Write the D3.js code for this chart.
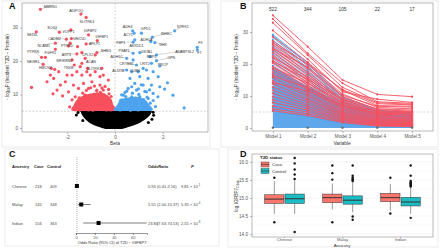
<!DOCTYPE html>
<html>
<head>
<meta charset="utf-8">
<script src="https://cdn.jsdelivr.net/npm/d3@7"></script>
<style>
  body { margin: 0; background: #fff; }
  svg { font-family: "Liberation Sans", Arial, sans-serif; display: block; }
</style>
</head>
<body>
<div id="chart"></div>
<script>
// ---------- panel A: volcano ----------
const redPoints = [
  [-3.13,35.4],[-1.43,34.0],[-1.21,33.0],[-3.30,28.7],[-2.33,28.6],[-1.85,29.3],[-1.11,27.8],
  [-2.04,26.5],[-1.83,26.7],[-0.74,26.1],[-2.50,25.3],[-1.88,25.3],[-1.21,25.1],[-1.95,24.5],
  [-1.57,24.3],[-3.08,21.1],[-2.92,21.1],[-2.50,23.5],[-0.76,22.5],[-1.39,22.5],[-1.60,22.1],
  [-3.01,19.0],[-2.67,17.8],[-2.53,17.5],[-1.80,20.3],[-1.71,18.8],[-1.46,18.3],[-1.39,19.3],
  [-1.25,20.8],[-1.15,17.8],[-0.83,21.8],[-3.50,12.1],[-2.85,13.8],[-2.57,14.8],[-2.71,15.8],
  [-2.36,16.8],[-2.01,15.8],[-2.08,13.8],[-1.80,15.8],[-1.60,16.8],[-1.39,15.8],[-1.04,15.8],
  [-0.63,15.3],[-0.28,14.3],[-0.49,15.8],[-0.55,17.8],[-0.83,16.8],[-1.18,16.8],[-2.29,12.8],
  [-1.74,12.8],[-1.32,13.3],[-0.97,13.8],[-0.63,12.8],[-2.43,11.3],[-1.95,10.8],[-1.53,11.8],
  [-1.11,11.8],[-0.76,11.3],[-0.49,11.3],[-1.67,9.3],[-1.25,9.8],[-0.90,9.8],[-0.63,9.3],
  [-0.35,9.3],[-1.80,8.4],[-1.46,7.9],[-1.04,8.4],[-0.70,7.9],[-0.28,7.4],[-1.32,6.4],
  [-0.90,6.4],[-0.55,6.4],[-0.14,6.4],[-1.11,5.4],[-0.70,5.6],[-0.35,5.4],
  [-1.62,7.1],[-1.50,9.0],[-1.41,6.0],[-1.35,10.4],[-1.28,8.2],[-1.22,5.6],[-1.17,7.4],
  [-1.10,9.6],[-1.05,6.6],[-0.98,8.7],[-0.93,5.3],[-0.88,10.1],[-0.84,7.2],[-0.79,6.1],
  [-0.74,9.2],[-0.70,8.1],[-0.66,5.8],[-0.61,10.6],[-0.57,7.0],[-0.53,8.9],[-0.49,6.3],
  [-0.45,9.8],[-0.41,5.5],[-0.37,7.7],[-0.33,8.6],[-0.29,6.0],[-0.25,10.2],[-0.21,7.3],
  [-0.18,5.4],[-0.14,6.8],[-1.45,7.8],[-1.30,6.9],[-1.14,8.5],[-1.00,7.6],[-0.91,6.7],
  [-0.77,11.0],[-0.68,6.9],[-0.59,8.0],[-0.47,7.5],[-0.39,9.1],[-0.31,7.1],[-0.23,8.4],
  [-0.16,9.4],[-1.56,5.9],[-1.20,11.2],[-1.02,12.0],[-0.86,12.5],[-0.55,11.9],[-0.42,12.4],
  [-0.27,11.5],[-2.20,9.6],[-1.90,6.3],[-2.60,10.2]
];
const bluePoints = [
  [0.74,29.0],[1.11,28.3],[0.80,28.3],[2.50,29.0],[1.57,27.1],[1.50,25.8],[0.76,25.6],
  [0.83,26.3],[1.67,25.5],[3.45,24.1],[3.45,23.3],[0.76,22.3],[1.04,22.5],[0.49,20.8],
  [0.76,20.3],[1.74,21.8],[1.46,21.3],[1.74,20.1],[1.53,19.3],[0.90,18.8],[1.18,17.8],
  [0.49,17.3],[0.70,16.8],[0.97,16.8],[1.32,17.3],[1.60,16.8],[1.88,18.5],[0.63,14.8],
  [1.04,15.3],[1.39,14.8],[1.81,15.3],[1.88,12.3],[2.08,11.6],[2.43,9.8],[1.80,9.3],
  [0.83,13.3],[1.18,12.8],[1.53,12.8],[0.55,11.8],[0.90,11.3],[1.32,10.8],[1.60,10.3],
  [0.35,9.8],[0.70,9.3],[1.04,9.3],[1.39,8.8],[0.28,8.4],[0.55,7.9],[0.90,7.9],[1.18,7.4],
  [0.42,6.4],[0.76,6.4],[1.11,6.2],[0.21,5.4],[0.63,5.4],[0.97,5.4],[1.32,5.6],
  [0.15,6.2],[0.22,8.1],[0.31,5.6],[0.38,7.3],[0.45,9.4],[0.52,6.5],[0.60,8.3],[0.66,5.4],
  [0.73,10.4],[0.80,7.0],[0.86,8.9],[0.93,6.0],[1.00,10.0],[1.06,7.6],[1.13,5.7],[1.20,8.5],
  [1.27,6.6],[1.35,9.2],[1.42,5.9],[1.48,7.4],[0.28,9.9],[0.50,11.0],[0.70,12.3],[0.98,11.7],
  [1.10,12.9],[1.25,10.9],[1.45,11.4],[1.60,8.2],[1.70,6.4],[0.42,10.6],[2.20,13.5],[2.90,6.0]
];
const blackPoints = [[-1.55,4.6],[-1.62,3.9],[1.60,4.7],[1.62,3.8],[1.55,2.6],[-1.35,2.2],[1.40,1.6]];
// envelope of the dense non-significant cloud
const blobLogP  = [5.1, 4.0, 3.0, 2.0, 1.2, 0.4, -0.3];
const blobLeft  = [-1.45, -1.40, -1.30, -1.15, -1.00, -0.75, -0.40];
const blobRight = [1.55, 1.50, 1.35, 1.15, 0.95, 0.65, 0.30];
// envelopes of the dense significant clusters
const redCoreBeta = [-1.70, -1.72, -1.55, -1.30, -1.00, -0.60, -0.35, -0.15, -0.08, -0.05];
const redCoreLogP = [5.0, 7.0, 8.8, 9.8, 10.3, 10.6, 9.9, 8.6, 7.0, 5.0];
const blueCoreBeta = [0.05, 0.10, 0.25, 0.55, 0.90, 1.20, 1.40, 1.50];
const blueCoreLogP = [5.0, 7.0, 8.5, 9.1, 9.3, 8.7, 7.3, 5.0];
// gene labels: name, label beta, label logP, point beta, point logP
const geneLabels = [
  ["MMRN1",-2.71,36.2,-3.13,35.4],["ADIPOQ",-1.63,35.0,-1.43,34.0],["SLITRK3",-1.18,31.7,-1.21,33.0],
  ["SCG3",-2.64,29.8,-2.33,28.6],["VOPP1",-1.95,28.6,-1.85,29.3],["IGFBP2",-1.04,29.0,-1.11,27.8],
  ["SEZ6L",-3.47,27.8,-3.30,28.7],["CADM2",-2.54,26.5,-2.04,26.5],["UNC5D",-1.49,26.5,-1.83,26.7],
  ["IGFBP1",-0.55,27.1,-0.74,26.1],["NCAM1",-2.99,24.6,-2.50,25.3],["PTPRD",-2.01,24.5,-1.88,25.3],
  ["APLP1",-0.86,25.0,-1.21,25.1],["PTPRS",-3.43,22.6,-3.08,21.1],["FGFR1",-2.71,22.3,-2.92,21.1],
  ["ART3",-2.04,21.9,-1.60,22.1],["CPLX2",-1.15,21.9,-1.39,22.5],["SHBG",-0.38,22.9,-0.76,22.5],
  ["NEGR1",-3.43,19.8,-3.01,19.0],["WFIKKN2",-2.13,20.0,-1.80,20.3],["ACAN",-1.01,19.6,-1.25,20.8],
  ["HMCN2",-2.92,17.8,-2.67,17.8],["TNXB",-1.95,17.8,-1.71,18.8],["SLITRK1",-0.88,17.6,-1.15,17.8],
  ["ADH4",0.53,30.2,0.74,29.0],["GPD1",1.29,29.5,1.11,28.3],["NTRK1",2.85,30.2,2.50,29.0],
  ["ACY1",0.55,27.6,0.80,28.3],["INHBC",2.15,28.0,1.57,27.1],["ADH1A",1.32,26.3,1.50,25.8],
  ["FBP1",0.24,25.3,0.76,25.6],["AKR1D1",0.90,24.5,0.83,26.3],["GHR",2.01,24.8,1.67,25.5],
  ["F9",3.58,25.3,3.45,24.1],["F7",3.54,22.5,3.45,23.3],["PSAT1",0.38,23.1,0.76,22.3],
  ["GSTA1",1.32,22.8,1.04,22.5],["ADAMTSL2",2.92,22.8,1.74,21.8],["ADH1C",0.07,21.1,0.49,20.8],
  ["RBP5",1.53,21.1,1.46,21.3],["OPN",2.36,20.8,1.74,20.1],["CRYBB1",0.49,19.1,0.90,18.8],
  ["LRIT2",1.25,19.1,1.53,19.3],["PRCP",2.01,18.8,1.88,18.5],["ALDOB",0.14,17.1,0.49,17.3],
  ["CUBN",0.83,17.1,0.70,16.8]
];
const volcanoXTicks = [-2, 0, 2];
const volcanoYTicks = [0, 10, 20, 30];

// ---------- panel B: models ----------
const models = ["Model 1", "Model 2", "Model 3", "Model 4", "Model 5"];
const modelCounts = [522, 344, 105, 22, 17];
const redLines = [
  [35.2,25.4,15.0,10.5,9.8],[34.1,23.3,14.0,8.2,7.7],[32.9,22.8,12.7,7.9,7.4],[30.5,21.5,11.3,9.0,8.0],
  [28.5,20.5,11.8,7.0,6.8],[27.2,19.8,10.6,6.4,6.0],[26.5,20.0,12.0,7.6,7.2],[26.0,18.6,9.8,5.8,5.2],
  [25.1,17.5,9.0,5.2,4.8],[24.8,19.0,10.2,6.8,6.5],[24.3,16.8,8.4,4.9,4.3],[23.5,15.6,7.9,4.4,4.0],
  [22.5,14.8,7.5,4.0,3.6],[22.0,16.0,9.2,6.0,5.6],[21.1,14.2,7.0,3.8,3.2],[20.3,13.4,6.6,3.5,3.0],
  [19.0,12.8,6.2,3.3,2.8],[18.3,12.2,5.9,3.0,2.5],[17.5,11.8,5.5,2.8,2.4],[16.8,11.0,5.1,2.6,2.2],
  [15.8,10.4,4.8,2.4,2.0],[14.8,9.9,4.5,2.2,1.8],[13.8,9.2,4.2,2.0,1.7],[12.8,8.7,4.0,1.8,1.5],
  [11.8,8.1,3.7,1.6,1.4],[10.8,7.4,3.4,1.5,1.2],[9.8,6.8,3.1,1.3,1.1],[8.8,6.2,2.8,1.2,1.0],
  [7.9,5.6,2.6,1.0,0.8],[6.9,5.0,2.3,0.9,0.7],[6.0,4.4,2.0,0.8,0.6],[5.4,3.9,1.7,0.6,0.4],
  [20.8,15.2,8.8,5.4,5.1],[18.8,14.0,8.0,5.0,4.7],[16.2,12.6,7.2,4.6,4.4],[14.2,11.5,6.8,4.3,3.9]
];
const blueLines = [
  [29.2,20.5,9.8,5.6,4.8],[28.8,20.0,9.5,5.4,4.6],[28.3,19.4,9.0,5.1,4.3],[27.5,18.8,8.6,4.8,4.0],
  [26.8,18.0,8.2,4.5,3.8],[25.6,17.2,7.8,4.2,3.5],[24.6,16.4,7.4,3.9,3.3],[23.8,15.6,7.0,3.6,3.0],
  [22.9,15.0,6.6,3.4,2.8],[21.8,14.1,6.2,3.1,2.6],[20.6,13.3,5.8,2.9,2.4],[19.4,12.5,5.4,2.6,2.1],
  [18.2,11.6,5.0,2.4,1.9],[16.9,10.8,4.6,2.1,1.7],[15.5,9.9,4.2,1.9,1.5],[14.0,9.0,3.8,1.7,1.3],
  [12.5,8.0,3.4,1.5,1.1],[11.0,7.1,3.0,1.3,1.0],[9.5,6.2,2.6,1.1,0.8],[8.0,5.3,2.2,0.9,0.6],
  [6.5,4.4,1.8,0.7,0.5],[5.2,3.5,1.4,0.5,0.3]
];
const blueBandTop = [19.0, 13.0, 7.5, 5.0, 4.6];
const redBandTop = [27.0, 19.0, 10.0, 6.0, 5.5];
const modelYTicks = [0, 10, 20, 30];

// ---------- panel C: forest ----------
const forestAncestry = ["Chinese", "Malay", "Indian"];
const forestCase = [218, 145, 156];
const forestControl = [409, 348, 363];
const forestOR = [0.94, 5.55, 23.84];
const forestLo = [0.41, 2.00, 7.63];
const forestHi = [2.16, 15.37, 74.53];
const forestP = ["9.81", "5.35", "2.55"];
const forestPExp = ["-1", "-4", "-8"];
const forestTicks = [0, 20, 40, 60];

// ---------- panel D: boxplots ----------
const boxAncestry = ["Chinese", "Chinese", "Malay", "Malay", "Indian", "Indian"];
const boxStatus = ["Case", "Control", "Case", "Control", "Case", "Control"];
const boxLow  = [14.56, 14.56, 14.68, 14.61, 14.65, 14.56];
const boxQ1   = [14.85, 14.85, 14.87, 14.83, 14.90, 14.78];
const boxMed  = [14.97, 14.98, 15.01, 14.94, 15.01, 14.89];
const boxQ3   = [15.09, 15.11, 15.11, 15.06, 15.13, 15.02];
const boxHigh = [15.47, 15.50, 15.40, 15.44, 15.39, 15.30];
const boxOut = [
  [15.56, 14.33],
  [16.11, 15.96, 15.79, 15.65, 15.53, 14.06],
  [15.51, 15.69, 15.90, 14.33],
  [15.90, 15.62, 15.57, 15.53, 15.50, 15.47, 14.49, 14.40],
  [15.56, 14.57],
  [15.90, 15.62, 15.47, 15.44, 15.41, 15.38, 15.35, 15.32, 14.45]
];
const boxYTicks = [14.0, 14.5, 15.0, 15.5, 16.0];

const red = "#f8505e", blue = "#4ea3ee";
const caseCol = "#f8766d", controlCol = "#1cbcc4";
const tickCol = "#555";

const svg = d3.select("#chart").append("svg")
  .attr("width", 440).attr("height", 248);

// light panel frames
svg.selectAll(".frame")
  .data([[2, 1, 208, 146], [221, 1, 217, 146], [5, 149, 214, 97], [228, 149, 210, 98]])
  .join("rect")
  .attr("x", d => d[0]).attr("y", d => d[1])
  .attr("width", d => d[2]).attr("height", d => d[3])
  .attr("fill", "none").attr("stroke", "#e6e6e6").attr("stroke-width", 0.8);

function letter(x, y, t) {
  svg.append("text").attr("x", x).attr("y", y).text(t)
    .attr("font-size", 9).attr("font-weight", "bold").attr("fill", "#111");
}

function styleAxis(g) {
  g.select(".domain").remove();
  g.selectAll(".tick line").attr("stroke", "#777").attr("stroke-width", 0.5);
  g.selectAll(".tick text").attr("fill", tickCol).attr("font-size", 4.6);
}

function yTitle(x, y, sub) {
  let t = svg.append("text")
    .attr("transform", `translate(${x},${y}) rotate(-90)`)
    .attr("text-anchor", "middle").attr("font-size", 4.6).attr("fill", "#333");
  t.append("tspan").text("- log");
  t.append("tspan").attr("font-size", 3.4).attr("dy", 1).text(sub);
  t.append("tspan").attr("dy", -1).text("P (Incident T2D ~ Protein)");
}

// ================= A =================
const xA = d3.scaleLinear().domain([-3.9, 3.9]).range([22, 208]);
const yA = d3.scaleLinear().domain([-1.2, 37.3]).range([132, 3]);
const gA = svg.append("g");

gA.append("line") // beta = 0
  .attr("x1", xA(0)).attr("x2", xA(0)).attr("y1", 3).attr("y2", 132)
  .attr("stroke", "#b5b5b5").attr("stroke-width", 0.6).attr("stroke-dasharray", "2,1.5");
gA.append("line") // significance threshold
  .attr("x1", 22).attr("x2", 208).attr("y1", yA(5)).attr("y2", yA(5))
  .attr("stroke", "#b5b5b5").attr("stroke-width", 0.6).attr("stroke-dasharray", "2,1.5");

const hullLine = d3.line().curve(d3.curveCardinalClosed);
gA.append("path")
  .attr("d", hullLine(redCoreBeta.map((b, i) => [xA(b), yA(redCoreLogP[i])])))
  .attr("fill", red);
gA.append("path")
  .attr("d", hullLine(blueCoreBeta.map((b, i) => [xA(b), yA(blueCoreLogP[i])])))
  .attr("fill", blue);

const blob = blobLogP.map((p, i) => ({ p: p, l: blobLeft[i], r: blobRight[i] }));
gA.append("path")
  .attr("d", d3.area().curve(d3.curveBasis)
    .y(d => yA(d.p)).x0(d => xA(d.l)).x1(d => xA(d.r))(blob))
  .attr("fill", "#000");

gA.selectAll(".pb").data(blackPoints).join("circle")
  .attr("cx", d => xA(d[0])).attr("cy", d => yA(d[1])).attr("r", 1.5).attr("fill", "#000");
gA.selectAll(".pr").data(redPoints).join("circle")
  .attr("cx", d => xA(d[0])).attr("cy", d => yA(d[1])).attr("r", 1.6).attr("fill", red);
gA.selectAll(".pbl").data(bluePoints).join("circle")
  .attr("cx", d => xA(d[0])).attr("cy", d => yA(d[1])).attr("r", 1.6).attr("fill", blue);

// repel-style labels
gA.selectAll(".seg").data(geneLabels.filter(d =>
    Math.hypot(xA(d[1]) - xA(d[3]), yA(d[2]) - yA(d[4])) > 7))
  .join("line")
  .attr("x1", d => xA(d[3])).attr("y1", d => yA(d[4]))
  .attr("x2", d => xA(d[1])).attr("y2", d => yA(d[2]) - 1)
  .attr("stroke", "#888").attr("stroke-width", 0.35);
gA.selectAll(".gl").data(geneLabels).join("text")
  .attr("x", d => xA(d[1])).attr("y", d => yA(d[2]))
  .attr("text-anchor", "middle").attr("dominant-baseline", "middle")
  .attr("font-size", 3.6).attr("fill", "#333").text(d => d[0]);

gA.append("rect").attr("x", 22).attr("y", 3).attr("width", 186).attr("height", 129)
  .attr("fill", "none").attr("stroke", "#8a8a8a").attr("stroke-width", 0.6);
gA.append("g").attr("transform", "translate(22,0)")
  .call(d3.axisLeft(yA).tickValues(volcanoYTicks).tickSize(2).tickPadding(2)).call(styleAxis);
gA.append("g").attr("transform", "translate(0,132)")
  .call(d3.axisBottom(xA).tickValues(volcanoXTicks).tickSize(2).tickPadding(2)
    .tickFormat(d => d < 0 ? "-" + Math.abs(d) : d)).call(styleAxis);
svg.append("text").attr("x", xA(0)).attr("y", 145).attr("text-anchor", "middle")
  .attr("font-size", 4.8).attr("fill", "#333").text("Beta");
yTitle(9, 67, "10");
letter(9, 9, "A");

// ================= B =================
const xB = d3.scalePoint().domain(models).range([252, 433]).padding(0.6);
const yB = d3.scaleLinear().domain([-0.94, 39.06]).range([131, 3]);
const gB = svg.append("g");

const band = d3.area().x((d, i) => xB(models[i])).y0(yB(0)).y1(d => yB(d));
gB.append("path").attr("d", band(redBandTop)).attr("fill", red).attr("opacity", 0.3);
gB.append("path").attr("d", band(blueBandTop)).attr("fill", blue).attr("opacity", 0.9);
gB.append("line")
  .attr("x1", 252).attr("x2", 433).attr("y1", yB(5)).attr("y2", yB(5))
  .attr("stroke", "#bbb").attr("stroke-width", 0.6).attr("stroke-dasharray", "2,1.5");

const modelLine = d3.line().x((d, i) => xB(models[i])).y(d => yB(d));
function drawLines(rows, col) {
  let g = gB.append("g");
  g.selectAll("path").data(rows).join("path")
    .attr("d", modelLine).attr("fill", "none")
    .attr("stroke", col).attr("stroke-width", 1).attr("opacity", 0.9);
  g.selectAll("circle")
    .data(rows.flatMap(r => r.map((v, i) => [models[i], v])))
    .join("circle")
    .attr("cx", d => xB(d[0])).attr("cy", d => yB(d[1])).attr("r", 1.1).attr("fill", col);
}
drawLines(blueLines, blue);
drawLines(redLines, red);

gB.selectAll(".zero").data(models).join("circle")
  .attr("cx", d => xB(d)).attr("cy", yB(0.1)).attr("r", 1.2).attr("fill", "#666");

gB.selectAll(".cnt").data(models).join("text")
  .attr("x", d => xB(d)).attr("y", 11).attr("text-anchor", "middle")
  .attr("font-size", 4.8).attr("fill", "#333").text((d, i) => modelCounts[i]);

gB.append("rect").attr("x", 252).attr("y", 3).attr("width", 181).attr("height", 128)
  .attr("fill", "none").attr("stroke", "#8a8a8a").attr("stroke-width", 0.6);
gB.append("g").attr("transform", "translate(252,0)")
  .call(d3.axisLeft(yB).tickValues(modelYTicks).tickSize(2).tickPadding(2)).call(styleAxis);
gB.append("g").attr("transform", "translate(0,131)")
  .call(d3.axisBottom(xB).tickSize(2).tickPadding(2)).call(styleAxis);
svg.append("text").attr("x", 342).attr("y", 145).attr("text-anchor", "middle")
  .attr("font-size", 4.8).attr("fill", "#333").text("Variable");
yTitle(238, 67, "10");
letter(240, 9, "B");

// ================= C =================
const xC = d3.scaleLinear().domain([0, 75]).range([76, 147]);
const yC = d3.scalePoint().domain(forestAncestry).range([186, 223]);
const gC = svg.append("g").attr("font-size", 4);

const head = gC.append("g").attr("font-weight", "bold").attr("fill", "#222");
head.append("text").attr("x", 12).attr("y", 168).text("Ancestry");
head.append("text").attr("x", 34).attr("y", 168).text("Case");
head.append("text").attr("x", 47).attr("y", 168).text("Control");
head.append("text").attr("x", 148).attr("y", 168).text("OddsRatio");
head.append("text").attr("x", 191).attr("y", 168).attr("font-style", "italic").text("P");

gC.append("line")
  .attr("x1", xC(1)).attr("x2", xC(1)).attr("y1", 157).attr("y2", 232)
  .attr("stroke", "#666").attr("stroke-width", 0.5).attr("stroke-dasharray", "1,1");

const rows = gC.selectAll(".row").data(forestAncestry).join("g")
  .attr("transform", d => `translate(0,${yC(d)})`);
rows.append("text").attr("x", 12).attr("y", 1.5).attr("fill", "#444").text(d => d);
rows.append("text").attr("x", 35).attr("y", 1.5).attr("fill", "#444").text((d, i) => forestCase[i]);
rows.append("text").attr("x", 50).attr("y", 1.5).attr("fill", "#444").text((d, i) => forestControl[i]);
rows.append("line")
  .attr("x1", (d, i) => xC(forestLo[i])).attr("x2", (d, i) => xC(Math.min(forestHi[i], 75)))
  .attr("stroke", "#222").attr("stroke-width", 0.6);
rows.append("rect")
  .attr("x", (d, i) => xC(forestOR[i]) - 2).attr("y", -2).attr("width", 4).attr("height", 4)
  .attr("fill", "#000");
rows.append("text").attr("x", 148).attr("y", 1.5).attr("fill", "#444")
  .text((d, i) => forestOR[i].toFixed(2));
rows.append("text").attr("x", 157).attr("y", 1.5).attr("fill", "#444")
  .text((d, i) => `(${forestLo[i].toFixed(2)}-${forestHi[i].toFixed(2)})`);
const pt = rows.append("text").attr("x", 181).attr("y", 1.5).attr("fill", "#444");
pt.append("tspan").text((d, i) => `${forestP[i]} \u00d7 10`);
pt.append("tspan").attr("dy", -1.6).attr("font-size", 2.8).text((d, i) => forestPExp[i]);

const axC = gC.append("g").attr("transform", "translate(0,233)")
  .call(d3.axisBottom(xC).tickValues(forestTicks).tickSize(2).tickPadding(1));
axC.select(".domain").attr("stroke", "#333").attr("stroke-width", 0.5);
axC.selectAll(".tick line").attr("stroke", "#333").attr("stroke-width", 0.5);
axC.selectAll(".tick text").attr("fill", tickCol).attr("font-size", 4);
gC.append("text").attr("x", 112).attr("y", 243.5).attr("text-anchor", "middle")
  .attr("font-size", 4).attr("fill", "#333").text("Odds Ratio (95% CI) of T2D ~ IGFBP7");
letter(9, 157, "C");

// ================= D =================
const xD = d3.scaleBand().domain(forestAncestry).range([252, 433]).paddingOuter(0.06);
const xSub = d3.scaleBand().domain(["Case", "Control"]).range([0, xD.bandwidth()])
  .paddingInner(0.05).paddingOuter(0.45);
const yD = d3.scaleLinear().domain([13.92, 16.22]).range([237, 154]);
const gD = svg.append("g");

gD.selectAll(".grid").data(d3.range(14.0, 16.01, 0.25)).join("line")
  .attr("x1", 252).attr("x2", 433).attr("y1", d => yD(d)).attr("y2", d => yD(d))
  .attr("stroke", (d, i) => i % 2 ? "#f2f2f2" : "#e6e6e6").attr("stroke-width", 0.5);

const boxes = boxAncestry.map((a, i) => ({
  a: a, s: boxStatus[i], lo: boxLow[i], q1: boxQ1[i], med: boxMed[i],
  q3: boxQ3[i], hi: boxHigh[i], out: boxOut[i]
}));
const bx = d => xD(d.a) + xSub(d.s);
const bw = xSub.bandwidth();
const bg = gD.selectAll(".box").data(boxes).join("g");
bg.append("line")
  .attr("x1", d => bx(d) + bw / 2).attr("x2", d => bx(d) + bw / 2)
  .attr("y1", d => yD(d.lo)).attr("y2", d => yD(d.hi))
  .attr("stroke", "#333").attr("stroke-width", 0.5);
bg.append("rect")
  .attr("x", bx).attr("width", bw)
  .attr("y", d => yD(d.q3)).attr("height", d => yD(d.q1) - yD(d.q3))
  .attr("fill", d => d.s === "Case" ? caseCol : controlCol)
  .attr("stroke", "#333").attr("stroke-width", 0.5);
bg.append("line")
  .attr("x1", bx).attr("x2", d => bx(d) + bw)
  .attr("y1", d => yD(d.med)).attr("y2", d => yD(d.med))
  .attr("stroke", "#333").attr("stroke-width", 1);
bg.selectAll(".out").data(d => d.out.map(v => [bx(d) + bw / 2, v])).join("circle")
  .attr("cx", d => d[0]).attr("cy", d => yD(d[1])).attr("r", 1.2).attr("fill", "#111");

gD.append("rect").attr("x", 252).attr("y", 154).attr("width", 181).attr("height", 83)
  .attr("fill", "none").attr("stroke", "#8a8a8a").attr("stroke-width", 0.6);
gD.append("g").attr("transform", "translate(252,0)")
  .call(d3.axisLeft(yD).tickValues(boxYTicks).tickSize(2).tickPadding(2).tickFormat(d3.format(".1f")))
  .call(styleAxis);
const axD = gD.append("g").attr("transform", "translate(0,237)")
  .call(d3.axisBottom(xD).tickSize(1).tickPadding(0.5)).call(styleAxis);
axD.selectAll(".tick text").attr("font-size", 4.2);
svg.append("text").attr("x", 342).attr("y", 246.8).attr("text-anchor", "middle")
  .attr("font-size", 4.3).attr("fill", "#333").text("Ancestry");
const yt = svg.append("text").attr("transform", "translate(238,196) rotate(-90)")
  .attr("text-anchor", "middle").attr("font-size", 4.6).attr("fill", "#333");
yt.append("tspan").text("log IGFBP7");
yt.append("tspan").attr("font-size", 3.4).attr("dy", 1).text("Olink");

// legend
const lg = gD.append("g").attr("transform", "translate(260,157)");
lg.append("text").attr("y", 2).attr("font-size", 4.4).attr("font-weight", "bold")
  .attr("fill", "#222").text("T2D status");
const li = lg.selectAll(".li").data(["Case", "Control"]).join("g")
  .attr("transform", (d, i) => `translate(0,${5 + i * 6.5})`);
li.append("rect").attr("x", 1).attr("width", 8).attr("height", 5)
  .attr("fill", d => d === "Case" ? caseCol : controlCol).attr("stroke", "#333").attr("stroke-width", 0.4);
li.append("line").attr("x1", 1).attr("x2", 9).attr("y1", 2.5).attr("y2", 2.5)
  .attr("stroke", "#333").attr("stroke-width", 0.6);
li.append("text").attr("x", 12).attr("y", 4).attr("font-size", 4.4).attr("fill", "#333").text(d => d);
letter(240, 157, "D");
</script>
</body>
</html>
